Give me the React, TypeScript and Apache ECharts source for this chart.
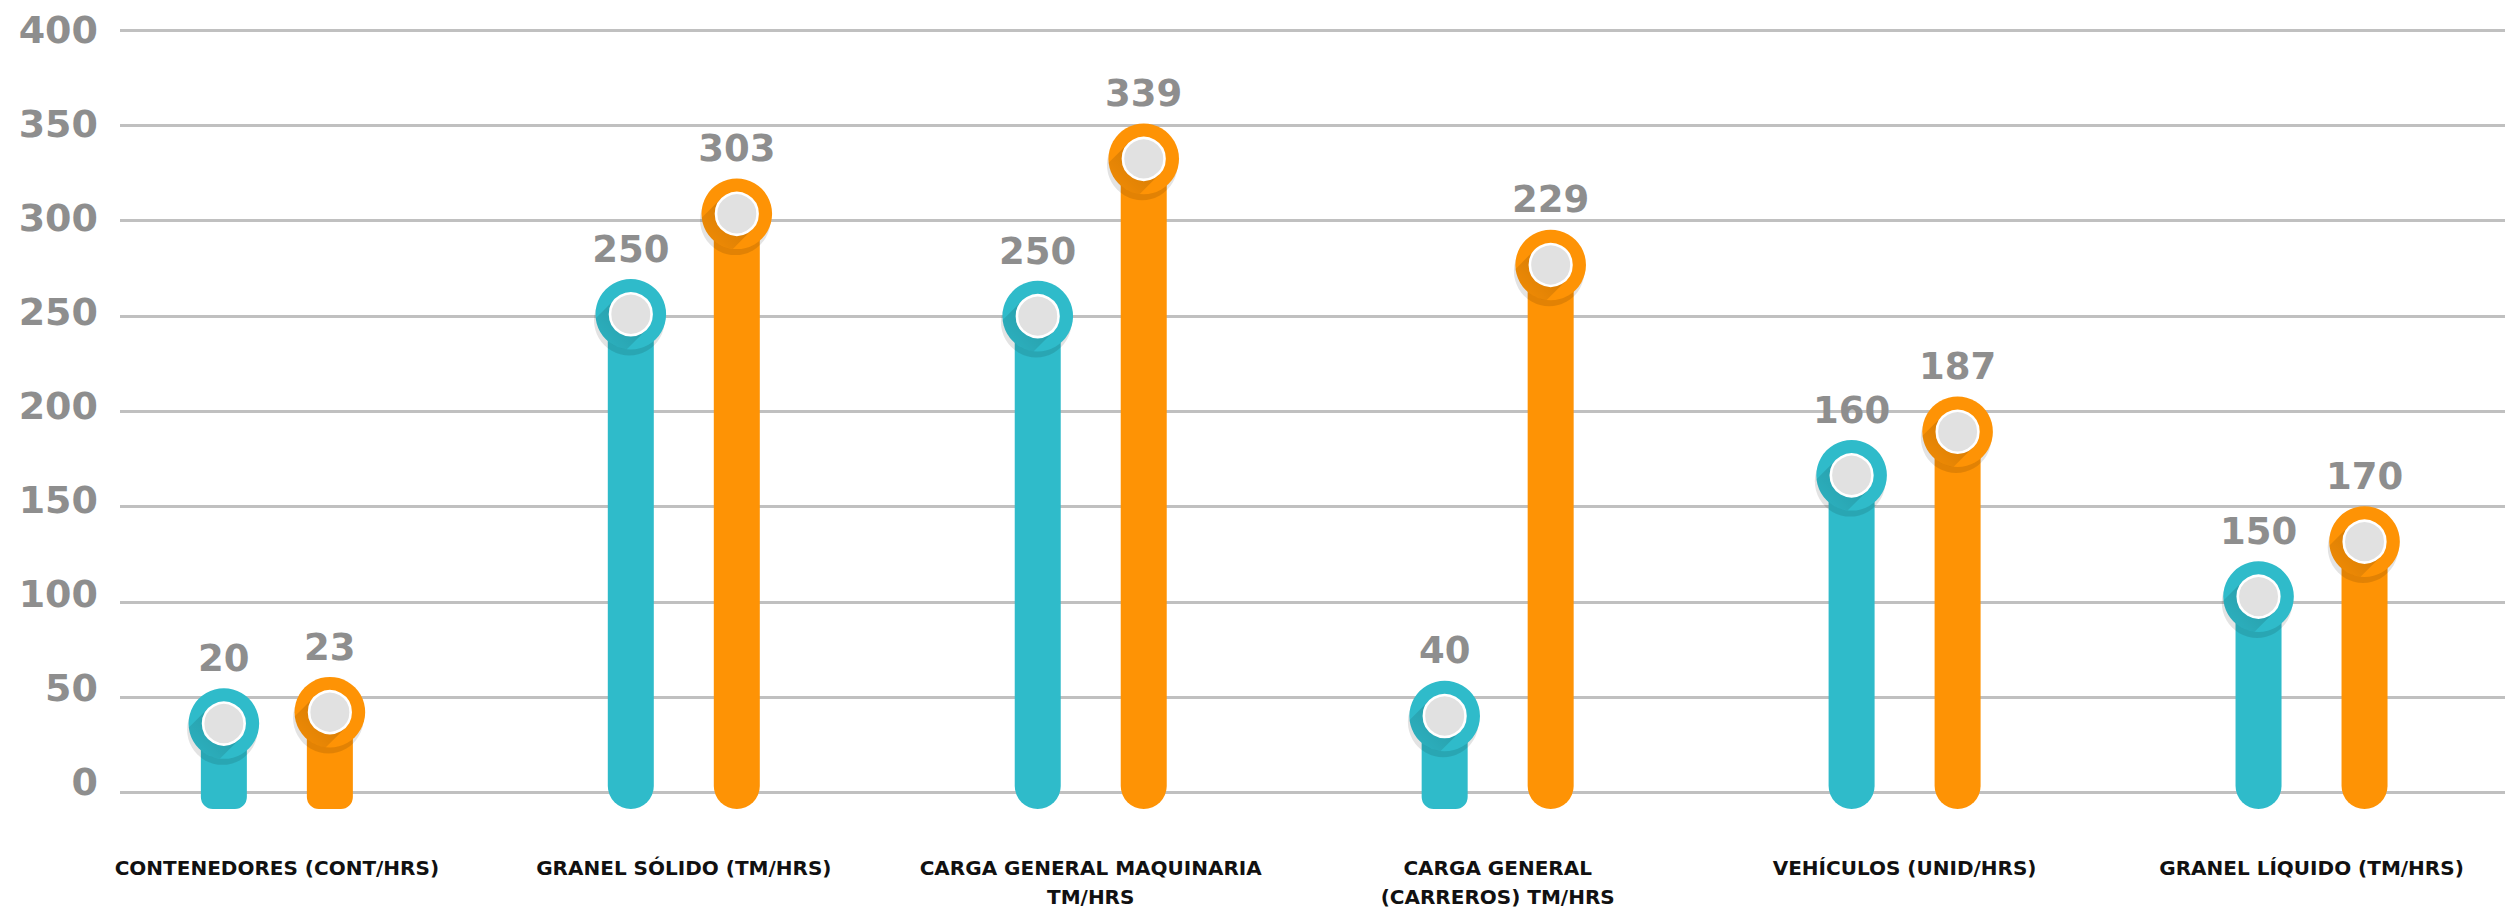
import React, { useEffect, useRef } from "react";
import * as echarts from "echarts";

const categories = [
  "CONTENEDORES (CONT/HRS)",
  "GRANEL SÓLIDO (TM/HRS)",
  "CARGA GENERAL MAQUINARIA\nTM/HRS",
  "CARGA GENERAL\n(CARREROS) TM/HRS",
  "VEHÍCULOS (UNID/HRS)",
  "GRANEL LÍQUIDO (TM/HRS)",
];
// heights at which the markers are drawn
const tealHeights = [34, 250, 249, 38, 165, 101];
const orangeHeights = [40, 303, 332, 276, 188, 130];
// numbers printed above the markers
const tealLabels = [20, 250, 250, 40, 160, 150];
const orangeLabels = [23, 303, 339, 229, 187, 170];

const yMin = 0;
const yMax = 400;
const yStep = 50;

const TEAL = "#2fbbca";
const ORANGE = "#fe9305";
const GREY_TEXT = "#8e8e8e";
const FONT = '"DejaVu Sans", sans-serif';

function makeRender(color: string, offset: number) {
  return (params: any, api: any) => {
    const idx = api.value(0);
    const v = api.value(1);
    const label = String(api.value(2));
    const c = api.coord([idx, v]);
    const z = api.coord([idx, 0]);
    const cx = c[0] + offset;
    const cy = c[1];
    const bottom = z[1] + 21;
    const barW = 46;
    const len = bottom - cy;
    const rad = len < 110 ? 12 : 23;
    const R = 35.3;
    const r = 22;
    const s = Math.sqrt(R * R - r * r);
    const k = Math.SQRT1_2;
    const n = [k, k];
    const d = [-k, k];
    const a0 = Math.atan2(r * n[1] + s * d[1], r * n[0] + s * d[0]);
    const a1 = Math.atan2(-r * n[1] + s * d[1], -r * n[0] + s * d[0]);
    const pts: number[][] = [[cx + r * n[0], cy + r * n[1]]];
    const N = 24;
    for (let t = 0; t <= N; t++) {
      const a = a0 + ((a1 - a0) * t) / N;
      pts.push([cx + R * Math.cos(a), cy + R * Math.sin(a)]);
    }
    pts.push([cx - r * n[0], cy - r * n[1]]);
    return {
      type: "group",
      children: [
        {
          type: "rect",
          shape: { x: cx - barW / 2, y: cy, width: barW, height: len, r: [0, 0, rad, rad] },
          style: { fill: color },
        },
        {
          type: "circle",
          shape: { cx: cx - 1.5, cy: cy + 6, r: R },
          style: { fill: "rgba(0,0,0,0.11)" },
        },
        {
          type: "circle",
          shape: { cx, cy, r: R },
          style: { fill: color },
        },
        {
          type: "polygon",
          shape: { points: pts },
          style: {
            fill: {
              type: "linear",
              x: 1,
              y: 0,
              x2: 0,
              y2: 1,
              colorStops: [
                { offset: 0, color: "rgba(0,0,0,0.2)" },
                { offset: 1, color: "rgba(0,0,0,0.04)" },
              ],
            },
          },
        },
        {
          type: "circle",
          shape: { cx, cy, r: 20.8 },
          style: { fill: "#e1e1e1", stroke: "#ffffff", lineWidth: 2.6 },
        },
        {
          type: "text",
          x: cx,
          y: cy - 65,
          style: {
            text: label,
            fill: GREY_TEXT,
            fontSize: 37,
            fontWeight: "bold",
            fontFamily: FONT,
            align: "center",
            verticalAlign: "middle",
          },
        },
      ],
    };
  };
}

export default function App() {
  const ref = useRef<HTMLDivElement>(null);
  useEffect(() => {
    if (!ref.current) return;
    const chart = echarts.init(ref.current, undefined, { renderer: "svg" });
    const tealData = categories.map((_, i) => [i, tealHeights[i], tealLabels[i]]);
    const orangeData = categories.map((_, i) => [i, orangeHeights[i], orangeLabels[i]]);
    chart.setOption({
      animation: false,
      backgroundColor: "#ffffff",
      grid: [
        { left: 120, right: 10, top: 30, bottom: 118.3 },
        { left: 73.4, width: 2456.3, top: 30, bottom: 118.3 },
        { left: 120, right: 10, top: 30.2, bottom: 129.3 },
      ],
      xAxis: [
        { gridIndex: 0, type: "value", show: false },
        {
          gridIndex: 1,
          type: "category",
          data: categories,
          boundaryGap: true,
          axisLine: { show: false },
          axisTick: { show: false },
          axisLabel: {
            interval: 0,
            margin: 65,
            color: "#111111",
            fontSize: 20,
            fontWeight: "bold",
            fontFamily: FONT,
            lineHeight: 29,
            align: "center",
          },
        },
        { gridIndex: 2, type: "value", show: false },
      ],
      yAxis: [
        {
          gridIndex: 0,
          type: "value",
          min: yMin,
          max: yMax,
          interval: yStep,
          axisLine: { show: false },
          axisTick: { show: false },
          axisLabel: { show: false },
          splitLine: { show: true, lineStyle: { color: "#c0c0c0", width: 3 } },
        },
        { gridIndex: 1, type: "value", min: yMin, max: yMax, show: false },
        {
          gridIndex: 2,
          type: "value",
          min: yMin,
          max: yMax,
          interval: yStep,
          axisLine: { show: false },
          axisTick: { show: false },
          splitLine: { show: false },
          axisLabel: {
            margin: 22,
            color: GREY_TEXT,
            fontSize: 38,
            fontWeight: "bold",
            fontFamily: FONT,
          },
        },
      ],
      series: [
        {
          name: "A",
          type: "custom",
          xAxisIndex: 1,
          yAxisIndex: 1,
          clip: false,
          encode: { x: 0, y: 1 },
          data: tealData,
          renderItem: makeRender(TEAL, -53),
        },
        {
          name: "B",
          type: "custom",
          xAxisIndex: 1,
          yAxisIndex: 1,
          clip: false,
          encode: { x: 0, y: 1 },
          data: orangeData,
          renderItem: makeRender(ORANGE, 53),
        },
      ],
    });
    return () => chart.dispose();
  }, []);
  return (
    <div
      ref={ref}
      style={{ position: "fixed", left: 0, top: 0, width: 2515, height: 911, background: "#fff" }}
    />
  );
}
